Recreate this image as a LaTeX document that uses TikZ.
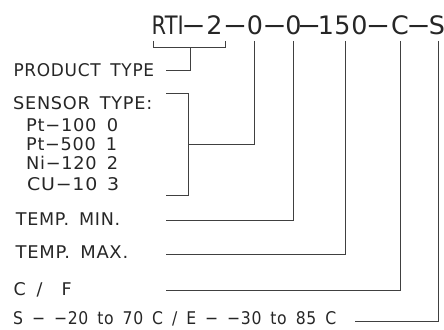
\documentclass[tikz,border=0pt]{standalone}
\usepackage{fontspec}
\setmainfont{DejaVu Sans}
\newfontfamily\labfont{DejaVu Sans}[LetterSpace=4, WordSpace=1.6]
\usepackage{graphicx}
\newcommand{\fitw}[2]{\resizebox{#1pt}{\height}{#2}}
\newcommand{\tdash}{\scalebox{1.15}[1]{−}}
\begin{document}
\begin{tikzpicture}[x=1pt,y=-1pt,
  lab/.style={anchor=base west, inner sep=0pt, text=black!85, font=\labfont\fontsize{17.5}{20}\selectfont},
  tg/.style={anchor=base, inner sep=0pt, text=black!85, font=\fontsize{25.4}{30}\selectfont},
  ln/.style={draw=black!75, line width=0.8pt}]
\useasboundingbox (0,0) rectangle (444,329);

% title glyphs
\node[tg, anchor=base west] (tRTI) at (151.5,34.5) {\fitw{32}{RTI}};
\node[tg] (d1) at (193.5,34.5) {\tdash};
\node[tg] (t2) at (214.5,34.5) {2};
\node[tg] (d2) at (235,34.5) {\tdash};
\node[tg] (t0a) at (255,34.5) {0};
\node[tg] (d3) at (274.5,34.5) {\tdash};
\node[tg] (t0b) at (293.5,34.5) {0};
\node[tg] (d4) at (309,34.5) {\tdash};
\node[tg] (t1) at (326,34.5) {1};
\node[tg] (t5) at (342.5,34.5) {5};
\node[tg] (t0c) at (359.5,34.5) {0};
\node[tg] (d5) at (378,34.5) {\tdash};
\node[tg] (tC) at (400,34.5) {C};
\node[tg] (d6) at (418.5,34.5) {\tdash};
\node[tg] (tS) at (437,34.5) {S};

% labels
\node[lab] (prod) at (13.3,76.7) {\fitw{140.7}{PRODUCT TYPE}};
\node[lab] (sens) at (13,109.3) {\fitw{139}{SENSOR TYPE:}};
\node[lab] (pt100) at (26,131) {\fitw{92}{Pt−100 0}};
\node[lab] (pt500) at (26,150) {\fitw{91}{Pt−500 1}};
\node[lab] (ni120) at (26,169.3) {\fitw{92}{Ni−120 2}};
\node[lab] (cu10) at (27,190) {\fitw{92}{CU−10\hspace{9pt}3}};
\node[lab] (tmin) at (15.7,225) {\fitw{104.3}{TEMP. MIN.}};
\node[lab] (tmax) at (15.5,258.5) {\fitw{112.5}{TEMP. MAX.}};
\node[lab] (cf) at (13.3,295.5) {C\hspace{11pt}/\hspace{19pt}F};
\node[lab] (range) at (13,324) {\fitw{323}{S − −20 to 70 C / E − −30 to 85 C}};

% connector end points
\coordinate (bL) at (153.3,41);
\coordinate (bR) at (225.7,41);
\coordinate (bM) at (190,47.7);
\coordinate (pEnd) at (166,70);
\coordinate (sTop) at (166,93);
\coordinate (sBot) at (166,195.7);
\coordinate (sMid) at (188.5,144);
\coordinate (v0a) at (254.5,41);
\coordinate (v0b) at (293.3,41);
\coordinate (v150) at (345,41);
\coordinate (vC) at (400,41);
\coordinate (vS) at (438,41);
\coordinate (eMin) at (166,220);
\coordinate (eMax) at (166,254);
\coordinate (eCF) at (166,290.3);
\coordinate (eS) at (355,321);

% connectors
\draw[ln] (bL) -- (bL |- bM) -- (bR |- bM) -- (bR);
\draw[ln] (bM) |- (pEnd);
\draw[ln] (sTop) -| (sMid) |- (sBot);
\draw[ln] (v0a) |- (sMid);
\draw[ln] (v0b) |- (eMin);
\draw[ln] (v150) |- (eMax);
\draw[ln] (vC) |- (eCF);
\draw[ln] (vS) |- (eS);
\end{tikzpicture}
\end{document}
